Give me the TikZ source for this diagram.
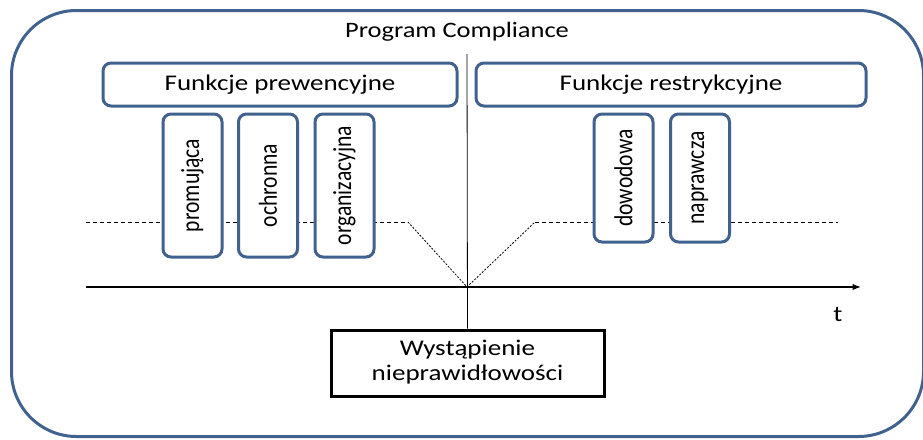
\documentclass[tikz,border=0pt]{standalone}
\usepackage{graphicx}
\usepackage{fontspec}
\setmainfont{Carlito}
\usetikzlibrary{arrows.meta,positioning}
\definecolor{frameblue}{RGB}{65,98,143}
\newcommand{\squeezed}[1]{\scalebox{1}[0.83]{#1}}
\newcommand{\squeezedup}[1]{\scalebox{0.83}[1]{#1}}

\begin{document}
\begin{tikzpicture}[x=1pt,y=-1pt,>=Latex,font=\fontsize{27}{30}\selectfont,
  groupbox/.style={draw=frameblue, line width=3pt, rounded corners=8pt, fill=white, minimum height=43pt, inner sep=0pt},
  funcbox/.style={draw=frameblue, line width=3pt, rounded corners=8pt, fill=white, rotate=90, minimum height=59pt, inner sep=0pt, font=\fontsize{26}{30}\selectfont},
  level/.style={line width=0.8pt, dash pattern=on 4pt off 3pt},
  drop/.style={line width=0.8pt, dash pattern=on 2pt off 1.5pt}]
\useasboundingbox (0,0) rectangle (923,439);
% outer frame
\node (frame) [draw=frameblue, line width=3pt, rounded corners=65pt, minimum width=912pt, minimum height=426pt, inner sep=0pt] at (467.5,223.5) {};
\node (title) [font=\fontsize{26.5}{30}\selectfont] at (457,32) {\squeezed{Program Compliance}};
% time axis and level lines
\coordinate (axl) at (86,287);
\coordinate (axr) at (861,287);
\coordinate (zero) at (467,287);
\coordinate (top) at (467,54);
\draw[->, line width=1.2pt] (axl) -- (axr);
\node (t) at (838,314) {\squeezed{t}};
\draw[level] (86,222) coordinate (ll) -- (408,222) coordinate (lr);
\draw[drop] (lr) -- (zero) -- (535,222) coordinate (rl);
\draw[level] (rl) -- (838,222) coordinate (rr);
% groups
\node (pre) [groupbox, minimum width=354pt] at (280,84.5) {\squeezed{Funkcje prewencyjne}};
\node (res) [groupbox, minimum width=390pt] at (671,84.5) {\squeezed{Funkcje restrykcyjne}};
\foreach \x/\name/\txt in {192.5/prom/promująca, 268/ochr/ochronna, 344.5/org/organizacyjna}
  \node (\name) [funcbox, minimum width=143pt] at (\x,185.5) {\squeezedup{\txt}};
\foreach \x/\name/\txt in {623.5/dow/dowodowa, 700/napr/naprawcza}
  \node (\name) [funcbox, minimum width=128pt] at (\x,178) {\squeezedup{\txt}};
% event
\node (event) [draw, line width=3pt, minimum width=273pt, minimum height=66pt, inner sep=0pt] at (467.5,363)
  {\squeezed{\begin{tabular}{@{}c@{}}Wystąpienie\\nieprawidłowości\end{tabular}}};
\draw[line width=0.8pt] (top) -- (event.north);
\end{tikzpicture}
\end{document}
